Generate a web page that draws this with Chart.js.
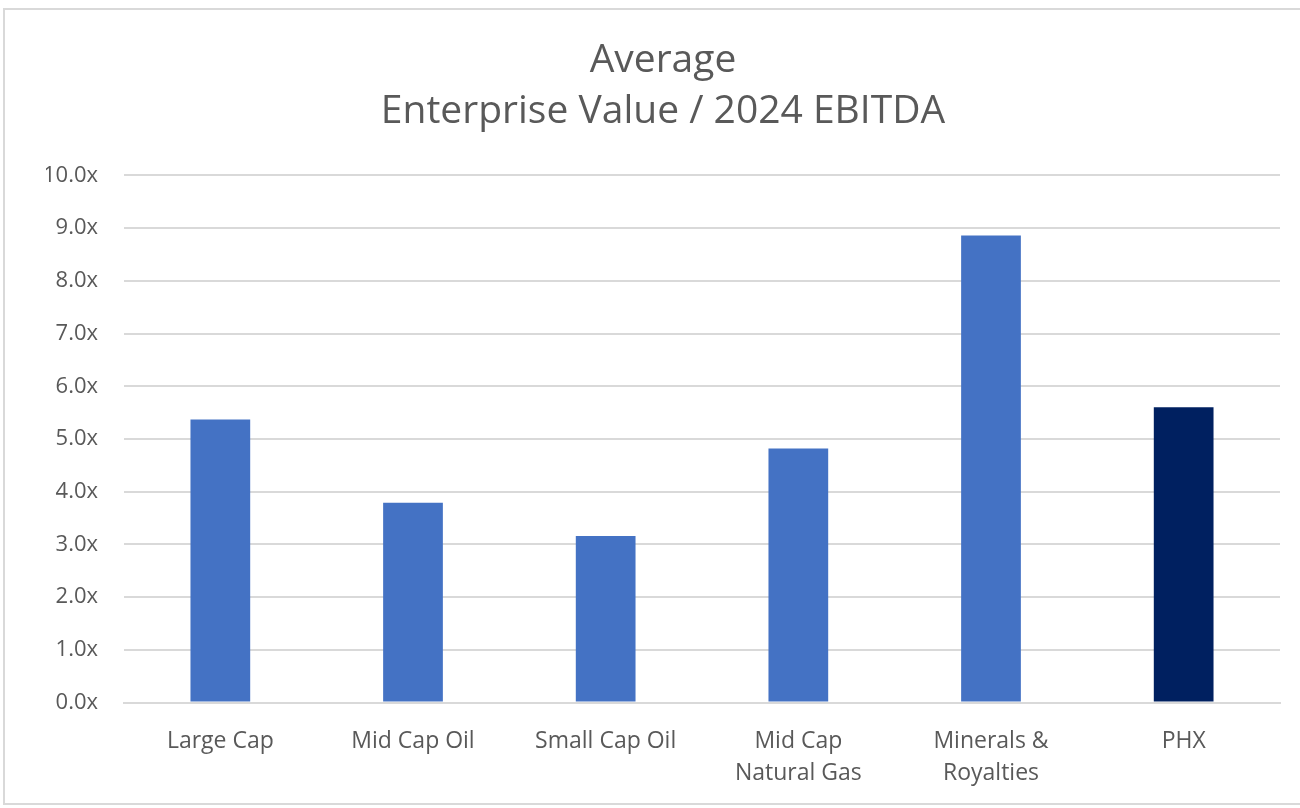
<!DOCTYPE html>
<html>
<head>
<meta charset="utf-8">
<script src="https://cdn.jsdelivr.net/npm/chart.js@4"></script>
<style>
    html, body { margin: 0; padding: 0; background: #fff; overflow: hidden; }
    .frame {
        position: absolute;
        left: 3px; top: 8px;
        width: 1300px; height: 797px;
        border: 2px solid #d9d9d9;
        box-sizing: border-box;
    }
    #chart { position: absolute; left: 0; top: 0; }
</style>
</head>
<body>
<div class="frame"></div>
<canvas id="chart" width="1326" height="808"></canvas>
<script>
// Average EV / 2024 EBITDA by peer group
const categories = ['Large Cap', 'Mid Cap Oil', 'Small Cap Oil', ['Mid Cap', 'Natural Gas'], ['Minerals &', 'Royalties'], 'PHX'];
const multiples = [5.37, 3.79, 3.16, 4.82, 8.86, 5.60];
const barColors = ['#4472C4', '#4472C4', '#4472C4', '#4472C4', '#4472C4', '#002060'];
const titleLines = ['Average', 'Enterprise Value / 2024 EBITDA'];

Chart.defaults.font.family = '"Open Sans", "Noto Sans", sans-serif';
Chart.defaults.color = '#595959';

const ctx = document.getElementById('chart').getContext('2d');

new Chart(ctx, {
    type: 'bar',
    data: {
        labels: categories,
        datasets: [{
            label: 'EV / 2024 EBITDA',
            data: multiples,
            backgroundColor: barColors,
            borderWidth: 0,
            barPercentage: 0.31,
            categoryPercentage: 1
        }]
    },
    options: {
        responsive: false,
        animation: false,
        layout: {
            padding: { left: 46, right: 46, top: 36, bottom: -5 }
        },
        scales: {
            x: {
                grid: { display: false, drawTicks: false },
                border: { color: '#d9d9d9', width: 2 },
                ticks: {
                    font: { size: 23, lineHeight: 1.4 },
                    color: '#595959',
                    padding: 23,
                    maxRotation: 0
                }
            },
            y: {
                min: 0,
                max: 10,
                afterFit: (scale) => { scale.width = 78; }, // keep plot left edge fixed
                grid: { color: '#d9d9d9', lineWidth: 2, drawTicks: false },
                border: { display: false },
                ticks: {
                    stepSize: 1,
                    font: { size: 22 },
                    color: '#595959',
                    padding: 26,
                    callback: (v) => v.toFixed(1) + 'x'
                }
            }
        },
        plugins: {
            legend: { display: false },
            tooltip: { enabled: false },
            title: {
                display: true,
                text: titleLines,
                color: '#595959',
                font: { size: 39, weight: 'normal', lineHeight: 1.3 },
                padding: { top: 0, bottom: 38 }
            }
        }
    }
});
</script>
</body>
</html>
